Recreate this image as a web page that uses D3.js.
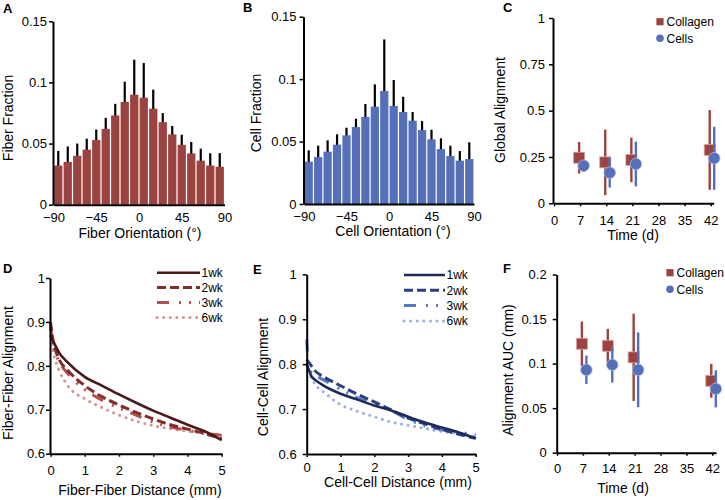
<!doctype html>
<html>
<head>
<style>
body {margin:0; background:#fff}
svg {display:block}
text {font-family: Arial, "Liberation Sans", sans-serif; fill:#000}
.axis path, .axis line {stroke:#000; fill:none}
.axis path {stroke-width:2}
.axis line {stroke-width:1.5}
.axis text {font-size:13px}
.title {font-size:14px; text-anchor:middle}
.letter {font-size:13px; font-weight:bold}
.leg {font-size:12px}
</style>
<script src="https://d3js.org/d3.v7.min.js"></script>
</head>
<body>
<script>
// ---- data ----
// A / B: orientation histograms (bin centres in degrees)
var binCenters = [-85,-75,-65,-55,-45,-35,-25,-15,-5,5,15,25,35,45,55,65,75,85];
var fiberFrac = [0.032,0.035,0.040,0.045,0.053,0.062,0.073,0.084,0.090,0.0875,0.0785,0.0675,0.0575,0.049,0.042,0.036,0.032,0.031];
var fiberErr  = [0.012,0.0126,0.010,0.009,0.0085,0.009,0.0095,0.0166,0.0286,0.0284,0.0156,0.0074,0.0069,0.0082,0.0093,0.0098,0.0101,0.0112];
var cellFrac  = [0.0339,0.0376,0.0419,0.0475,0.055,0.0616,0.0697,0.0779,0.0905,0.0785,0.0737,0.0667,0.0592,0.0518,0.044,0.0384,0.0347,0.036];
var cellErr   = [0.0091,0.0091,0.0091,0.0083,0.0061,0.0067,0.0104,0.0179,0.0413,0.0208,0.0122,0.007,0.0073,0.0077,0.0086,0.0083,0.0077,0.0134];
var orientTicks = [-90,-45,0,45,90];
var fracTicks = [0,0.05,0.1,0.15];
var fracLabels = ["0","0.05","0.1","0.15"];

// C / F: time course
var days = [7,14,21,42];
var dayTicks = [0,7,14,21,28,35,42];
var collagenGA   = [0.246,0.221,0.234,0.288];
var collagenGAsd = [0.085,0.177,0.120,0.215];
var cellsGA      = [0.203,0.165,0.212,0.243];
var cellsGAsd    = [0.033,0.080,0.121,0.170];
var gaTicks = [0,0.25,0.5,0.75,1];
var gaLabels = ["0","0.25","0.5","0.75","1"];
var collagenAUC   = [0.1223,0.120,0.107,0.0807];
var collagenAUCsd = [0.025,0.019,0.049,0.019];
var cellsAUC      = [0.093,0.0987,0.093,0.0717];
var cellsAUCsd    = [0.016,0.020,0.042,0.0208];
var aucTicks = [0,0.05,0.1,0.15,0.2];
var aucLabels = ["0","0.05","0.1","0.15","0.2"];

// D / E: alignment vs distance
var dist = [0,0.05,0.15,0.25,0.5,1,1.5,2,2.5,3,3.5,4,4.5,5];
var weeks = ["1wk","2wk","3wk","6wk"];
var fiber1wk = [0.87,0.86,0.845,0.83,0.808,0.775,0.755,0.735,0.716,0.698,0.682,0.666,0.651,0.631];
var fiber2wk = [0.90,0.87,0.835,0.815,0.79,0.755,0.73,0.711,0.694,0.679,0.666,0.656,0.646,0.634];
var fiber3wk = [0.89,0.86,0.83,0.81,0.783,0.746,0.722,0.704,0.688,0.672,0.661,0.653,0.647,0.642];
var fiber6wk = [0.88,0.845,0.81,0.79,0.755,0.725,0.705,0.688,0.674,0.664,0.657,0.651,0.646,0.642];
var cell1wk = [0.80,0.79,0.772,0.765,0.752,0.734,0.721,0.708,0.697,0.683,0.670,0.659,0.648,0.635];
var cell2wk = [0.81,0.805,0.795,0.785,0.772,0.752,0.733,0.716,0.698,0.680,0.667,0.655,0.644,0.635];
var cell3wk = [0.855,0.80,0.78,0.775,0.765,0.744,0.725,0.711,0.697,0.677,0.663,0.654,0.649,0.642];
var cell6wk = [0.80,0.785,0.768,0.755,0.738,0.71,0.695,0.683,0.671,0.664,0.657,0.65,0.645,0.637];
var alignTicks = [0.6,0.7,0.8,0.9,1];
var alignLabels = ["0.6","0.7","0.8","0.9","1"];
var distTicks = [0,1,2,3,4,5];

// colours
var red = "#9b4340", blue = "#5570b9";
var redShades = ["#4a1919","#832c2a","#b04f4b","#d5948f"];
var blueShades = ["#1d2b5a","#2b3f7d","#5a78c4","#9db1df"];
var lineDash = [null, "9,4", "12,10,2,8,2,8", "0.1,6.5"];
var lineWidth = [2.6, 3, 3, 3];

var svg = d3.select("body").append("svg").attr("width",725).attr("height",500);

// ---- helpers ----
function yAxis(scale, x, vals, labels, pad) {
    svg.append("g").attr("class","axis").attr("transform","translate("+x+",0)")
        .call(d3.axisLeft(scale).tickValues(vals).tickFormat(function(d,i){return labels[i]})
            .tickSize(4).tickSizeOuter(0).tickPadding(pad));
}
function xAxis(scale, y, vals, size, pad) {
    svg.append("g").attr("class","axis").attr("transform","translate(0,"+y+")")
        .call(d3.axisBottom(scale).tickValues(vals).tickFormat(d3.format("d"))
            .tickSize(size).tickSizeOuter(0).tickPadding(pad));
}
function letter(t, x, y) {
    svg.append("text").attr("class","letter").attr("x",x).attr("y",y).text(t);
}
function xTitle(t, x, y) {
    svg.append("text").attr("class","title").attr("x",x).attr("y",y).text(t);
}
function yTitle(t, x, y) {
    svg.append("text").attr("class","title")
        .attr("transform","translate("+x+","+y+") rotate(-90)").attr("dy","0.35em").text(t);
}

// ---- histogram panels (A, B) ----
function histogram(vals, errs, color, x, y) {
    var g = svg.append("g");
    // error bars first so the bars hide the lower half
    g.selectAll("line").data(vals).enter().append("line")
        .attr("x1",function(d,i){return x(binCenters[i])})
        .attr("x2",function(d,i){return x(binCenters[i])})
        .attr("y1",function(d,i){return y(d-errs[i])})
        .attr("y2",function(d,i){return y(d+errs[i])})
        .attr("stroke","#000").attr("stroke-width",2.2);
    g.selectAll("rect").data(vals).enter().append("rect")
        .attr("x",function(d,i){return x(binCenters[i]-5)+0.6})
        .attr("width",function(d,i){return x(binCenters[i]+5)-x(binCenters[i]-5)-1.2})
        .attr("y",function(d){return y(d)})
        .attr("height",function(d){return y(0)-y(d)})
        .attr("fill",color);
}

var xA = d3.scaleLinear().domain([-90,90]).range([53.5,224.5]);
var yA = d3.scaleLinear().domain([0,0.15]).range([204.7,21.3]);
histogram(fiberFrac, fiberErr, red, xA, yA);
xAxis(xA, 204.7, orientTicks, 0, 8.5);
yAxis(yA, 53, fracTicks, fracLabels, 2);
letter("A", 3, 13);
yTitle("Fiber Fraction", 8, 118);
xTitle("Fiber Orientation (°)", 140, 237.5);

var xB = d3.scaleLinear().domain([-90,90]).range([304,474]);
var yB = d3.scaleLinear().domain([0,0.15]).range([204,16.7]);
histogram(cellFrac, cellErr, blue, xB, yB);
xAxis(xB, 204, orientTicks, 0, 8);
yAxis(yB, 303.5, fracTicks, fracLabels, 3);
letter("B", 243, 12);
yTitle("Cell Fraction", 256, 113);
xTitle("Cell Orientation (°)", 393, 236);

// ---- time course panels (C, F) ----
function timeCourse(colVals, colSd, celVals, celSd, x, y) {
    var g = svg.append("g");
    var dxCol = -1, dxCel = 3.5;
    g.selectAll("line.col").data(colVals).enter().append("line").attr("class","col")
        .attr("x1",function(d,i){return x(days[i])+dxCol}).attr("x2",function(d,i){return x(days[i])+dxCol})
        .attr("y1",function(d,i){return y(d-colSd[i])}).attr("y2",function(d,i){return y(d+colSd[i])})
        .attr("stroke",red).attr("stroke-width",2.4);
    g.selectAll("rect").data(colVals).enter().append("rect")
        .attr("x",function(d,i){return x(days[i])+dxCol-5.5}).attr("y",function(d){return y(d)-5.5})
        .attr("width",11).attr("height",11)
        .attr("fill",red).attr("stroke","#d9a5a3").attr("stroke-width",0.8);
    g.selectAll("line.cel").data(celVals).enter().append("line").attr("class","cel")
        .attr("x1",function(d,i){return x(days[i])+dxCel}).attr("x2",function(d,i){return x(days[i])+dxCel})
        .attr("y1",function(d,i){return y(d-celSd[i])}).attr("y2",function(d,i){return y(d+celSd[i])})
        .attr("stroke",blue).attr("stroke-width",2.4);
    g.selectAll("circle").data(celVals).enter().append("circle")
        .attr("cx",function(d,i){return x(days[i])+dxCel}).attr("cy",function(d){return y(d)})
        .attr("r",5.8).attr("fill",blue).attr("stroke","#a9b8e2").attr("stroke-width",0.8);
}
function markerLegend(x, y) {
    svg.append("rect").attr("x",x-3.6).attr("y",y-3.6).attr("width",7.2).attr("height",7.2).attr("fill",red);
    svg.append("text").attr("class","leg").attr("x",x+6.5).attr("y",y+4.3).text("Collagen");
    svg.append("circle").attr("cx",x).attr("cy",y+16.6).attr("r",3.8).attr("fill",blue);
    svg.append("text").attr("class","leg").attr("x",x+6.5).attr("y",y+20.9).text("Cells");
}

var xC = d3.scaleLinear().domain([0,42.8]).range([554,713.7]);
var yC = d3.scaleLinear().domain([0,1]).range([203.3,18]);
timeCourse(collagenGA, collagenGAsd, cellsGA, cellsGAsd, xC, yC);
xAxis(xC, 203.3, dayTicks, 3, 9);
yAxis(yC, 553, gaTicks, gaLabels, 4);
letter("C", 503, 12);
yTitle("Global Alignment", 500, 110);
xTitle("Time (d)", 633, 239.5);
markerLegend(660, 21.7);

var xF = d3.scaleLinear().domain([0,43]).range([557,716]);
var yF = d3.scaleLinear().domain([0,0.2]).range([452.7,274.5]);
timeCourse(collagenAUC, collagenAUCsd, cellsAUC, cellsAUCsd, xF, yF);
xAxis(xF, 452.7, dayTicks, 3, 8);
yAxis(yF, 556.7, aucTicks, aucLabels, 6);
letter("F", 503, 273);
yTitle("Alignment AUC (mm)", 508, 370);
xTitle("Time (d)", 623, 493);
markerLegend(670, 272.7);

// ---- alignment vs distance panels (D, E) ----
function curves(series, shades, x, y) {
    var line = d3.line().x(function(d,i){return x(dist[i])}).y(function(d){return y(d)}).curve(d3.curveMonotoneX);
    // draw the lightest first so 1wk sits on top
    for (var k = series.length-1; k >= 0; k--) {
        svg.append("path").attr("d",line(series[k])).attr("fill","none")
            .attr("stroke",shades[k]).attr("stroke-width",lineWidth[k])
            .attr("stroke-dasharray",lineDash[k]).attr("stroke-linecap", k==3 ? "round" : "butt");
    }
}
function lineLegend(shades, x1, x2, y0, step) {
    weeks.forEach(function(w,k){
        var yy = y0 + k*step;
        svg.append("line").attr("x1",x1).attr("x2",x2).attr("y1",yy).attr("y2",yy)
            .attr("stroke",shades[k]).attr("stroke-width",lineWidth[k])
            .attr("stroke-dasharray",lineDash[k]).attr("stroke-linecap", k==3 ? "round" : "butt");
        svg.append("text").attr("class","leg").attr("x",x2+1.5).attr("y",yy+4.3).text(w);
    });
}

var xD = d3.scaleLinear().domain([0,5]).range([50.5,221.7]);
var yD = d3.scaleLinear().domain([0.6,1]).range([453.7,278]);
curves([fiber1wk,fiber2wk,fiber3wk,fiber6wk], redShades, xD, yD);
xAxis(xD, 453.7, distTicks, 3, 9);
yAxis(yD, 50, alignTicks, alignLabels, 1);
letter("D", 3, 273);
yTitle("Fiber-Fiber Alignment", 8, 373);
xTitle("Fiber-Fiber Distance (mm)", 140, 495);
lineLegend(redShades, 157, 200, 272.7, 14.9);

var xE = d3.scaleLinear().domain([0,5]).range([306.7,475.7]);
var yE = d3.scaleLinear().domain([0.6,1]).range([454,274.3]);
curves([cell1wk,cell2wk,cell3wk,cell6wk], blueShades, xE, yE);
xAxis(xE, 454, distTicks, 3, 5.5);
yAxis(yE, 306.7, alignTicks, alignLabels, 6);
letter("E", 253, 274);
yTitle("Cell-Cell Alignment", 263, 377);
xTitle("Cell-Cell Distance (mm)", 398, 487);
lineLegend(blueShades, 404, 445, 275, 15.3);
</script>
</body>
</html>
